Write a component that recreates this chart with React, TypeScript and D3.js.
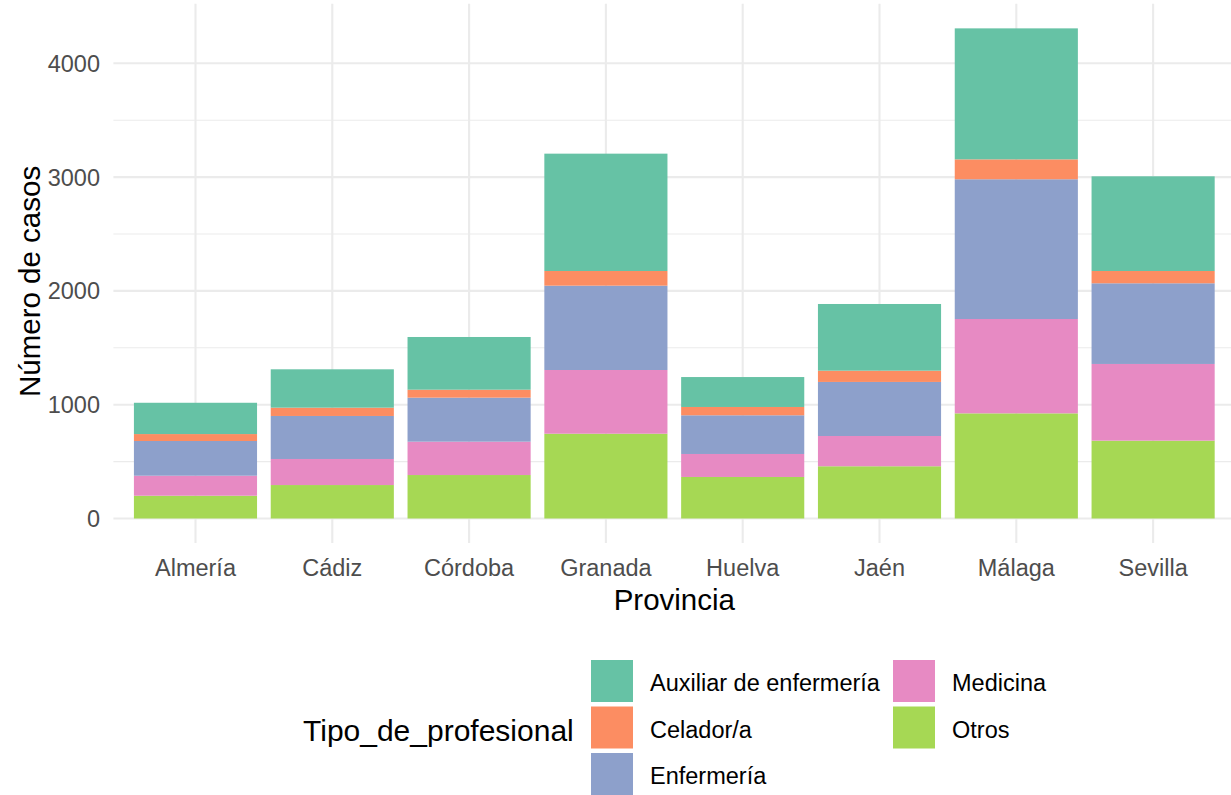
import React from 'react';
import * as d3 from 'd3';

// provinces on the x axis
const provincias = ['Almería', 'Cádiz', 'Córdoba', 'Granada', 'Huelva', 'Jaén', 'Málaga', 'Sevilla'];

// professional types, legend order (top of stack first)
const tipos = ['Auxiliar de enfermería', 'Celador/a', 'Enfermería', 'Medicina', 'Otros'];

// cases per type and province
const auxiliar = [275, 337, 463, 1031, 263, 586, 1151, 832];
const celador = [61, 73, 70, 129, 73, 99, 175, 108];
const enfermeria = [305, 378, 387, 741, 340, 475, 1228, 709];
const medicina = [176, 229, 293, 560, 202, 266, 829, 674];
const otros = [200, 294, 382, 745, 365, 459, 924, 684];

const yTicks = [0, 1000, 2000, 3000, 4000];
const yMinor = [500, 1500, 2500, 3500];

const colores = ['#66C2A5', '#FC8D62', '#8DA0CB', '#E78AC3', '#A6D854'];

const W = 1231, H = 795;
const panel = { left: 113.4, right: 1235.2 };
const FONT = '"Liberation Sans", Arial, sans-serif';

export default function App() {
  const series = [auxiliar, celador, enfermeria, medicina, otros];
  const rows = provincias.map((p, i) => {
    const r: any = { provincia: p };
    tipos.forEach((t, j) => { r[t] = series[j][i]; });
    return r;
  });
  // ggplot stacks the last level at the bottom
  const stackKeys = [...tipos].reverse();
  const stacked = d3.stack().keys(stackKeys)(rows);

  const maxTotal = d3.max(rows, (r: any) => d3.sum(tipos, t => r[t])) as number;
  const pad = maxTotal * 0.05;

  const x = d3.scaleBand().domain(provincias)
    .range([panel.left, panel.right]).paddingInner(0.1).paddingOuter(0.15);
  // keep 0 at the baseline pixel
  const y0 = d3.scaleLinear().domain([0, 4000]).range([518.5, 518.5 - 4000 * 0.1138]);
  const color = d3.scaleOrdinal<string, string>().domain(tipos).range(colores);
  const gridColor = '#EBEBEB';
  const panelTop = y0(maxTotal + pad);
  const panelBottom = y0(-pad);

  const legendCols = [[tipos[0], tipos[1], tipos[2]], [tipos[3], tipos[4]]];
  const legendX = [591, 893];
  const keySize = 42, keyStep = 46.5, legendTop = 660;

  return (
    <svg width={W} height={H} style={{ display: 'block', position: 'absolute', left: 0, top: 0 }}>
      <rect width={W} height={H} fill="white" />
      <g>
        {yMinor.map(v => (
          <line key={'mi' + v} x1={panel.left} x2={panel.right} y1={y0(v)} y2={y0(v)} stroke={gridColor} strokeWidth={1.1} />
        ))}
        {yTicks.map(v => (
          <line key={'ma' + v} x1={panel.left} x2={panel.right} y1={y0(v)} y2={y0(v)} stroke={gridColor} strokeWidth={2.1} />
        ))}
        {provincias.map(p => {
          const cx = (x(p) as number) + x.bandwidth() / 2;
          return <line key={'v' + p} x1={cx} x2={cx} y1={panelTop} y2={panelBottom} stroke={gridColor} strokeWidth={2.1} />;
        })}
      </g>
      <g>
        {stacked.map(s => (
          <g key={s.key} fill={color(s.key)}>
            {s.map((d, i) => (
              <rect key={i} x={x(provincias[i])} width={x.bandwidth()}
                y={y0(d[1])} height={y0(d[0]) - y0(d[1])} />
            ))}
          </g>
        ))}
      </g>
      <g fontFamily={FONT} fontSize={23.5} fill="#4D4D4D">
        {yTicks.map(v => (
          <text key={v} x={100} y={y0(v)} dy="0.36em" textAnchor="end">{v}</text>
        ))}
        {provincias.map(p => (
          <text key={p} x={(x(p) as number) + x.bandwidth() / 2} y={576} textAnchor="middle">{p}</text>
        ))}
      </g>
      <text x={(x(provincias[0]) as number + (x(provincias[7]) as number) + x.bandwidth()) / 2} y={610}
        textAnchor="middle" fontFamily={FONT} fontSize={29.5} fill="black">Provincia</text>
      <text transform={`translate(40,${(panelTop + panelBottom) / 2 + 8}) rotate(-90)`} textAnchor="middle"
        fontFamily={FONT} fontSize={29.5} fill="black">Número de casos</text>
      <text x={303} y={741} fontFamily={FONT} fontSize={30} fill="black">Tipo_de_profesional</text>
      {legendCols.map((col, ci) => (
        <g key={ci}>
          {col.map((t, ri) => (
            <g key={t}>
              <rect x={legendX[ci]} y={legendTop + ri * keyStep} width={keySize} height={keySize} fill={color(t)} />
              <text x={legendX[ci] + 59} y={legendTop + ri * keyStep + keySize / 2 + 2} dy="0.36em"
                fontFamily={FONT} fontSize={23.5} fill="black">{t}</text>
            </g>
          ))}
        </g>
      ))}
    </svg>
  );
}
